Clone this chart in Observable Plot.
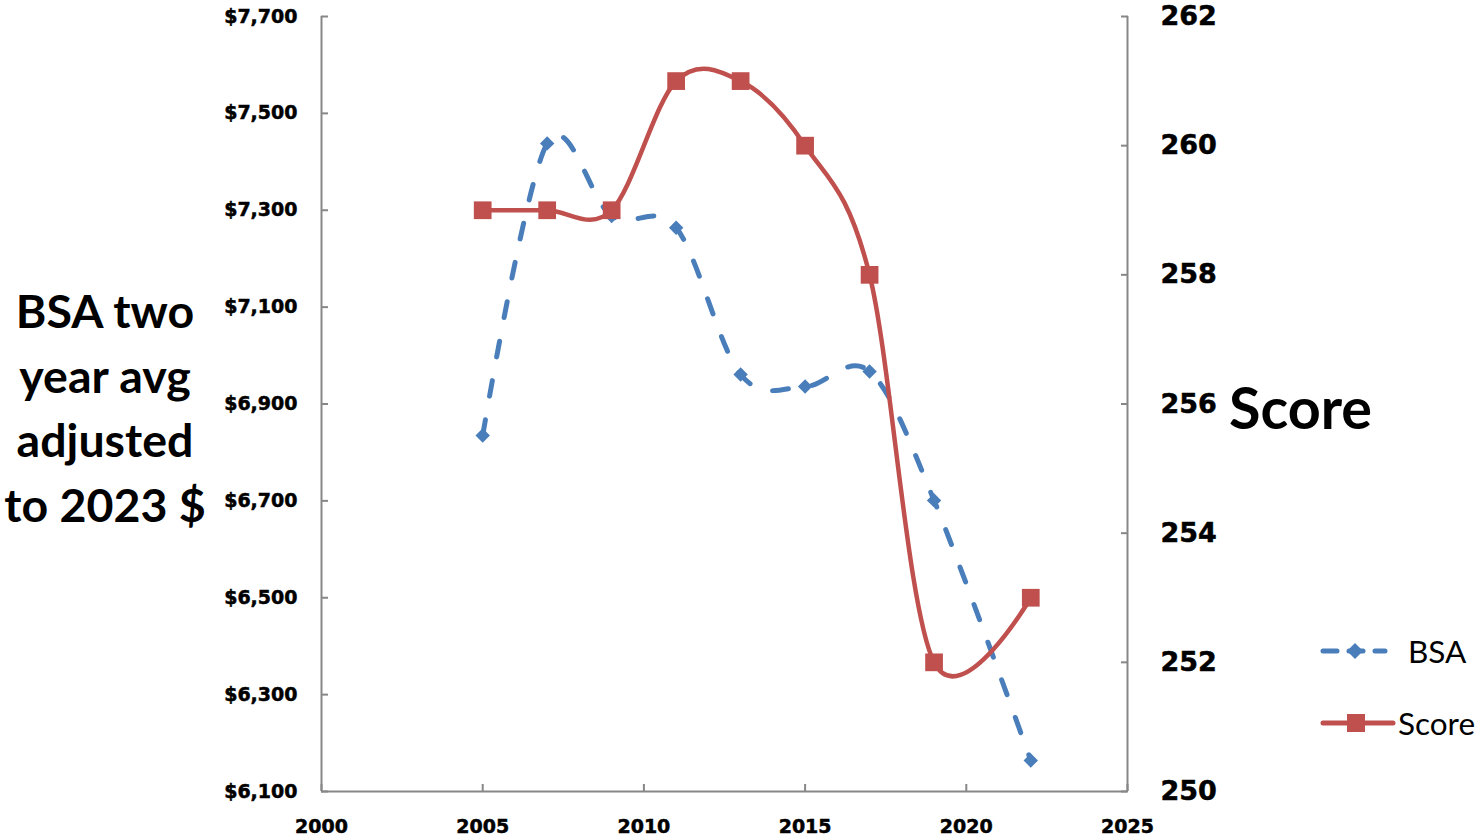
<!DOCTYPE html>
<html>
<head>
<meta charset="utf-8">
<script src="https://cdn.jsdelivr.net/npm/d3@7"></script>
<script src="https://cdn.jsdelivr.net/npm/@observablehq/plot@0.6"></script>
<style>
  html, body { margin: 0; padding: 0; background: #fff; overflow: hidden; }
  #wrap { position: relative; width: 1477px; height: 836px; overflow: hidden; }
  #chart { position: absolute; left: 0; top: 0; }
  #chart g[aria-label$="tick label"] text { stroke: #000; stroke-width: 0.5px; }
  .ytitle { position: absolute; left: 0; width: 210px; text-align: center; font-family: Lato, sans-serif; font-weight: bold; font-size: 46.5px; line-height: 64.5px; top: 278px; color: #000; }
  .rtitle { position: absolute; left: 1229px; top: 372px; font-family: Lato, sans-serif; font-weight: bold; font-size: 57.5px; line-height: 70px; color: #000; }
  .legend { position: absolute; left: 1316px; font-family: Lato, sans-serif; font-size: 31.5px; color: #000; white-space: nowrap; display: flex; align-items: center; }
</style>
</head>
<body>
<div id="wrap">
  <div id="chart"></div>
  <div class="ytitle">BSA two<br>year avg<br>adjusted<br>to 2023 $</div>
  <div class="rtitle">Score</div>
  <div class="legend" style="top:631px;">
    <svg width="80" height="40"><line x1="7" y1="20" x2="69" y2="20" stroke="#4A7EBB" stroke-width="5" stroke-dasharray="14,12" stroke-linecap="round"/><path d="M39,12 L47,20 L39,28 L31,20 Z" fill="#4A7EBB"/></svg>
    <span style="margin-left:12px;">BSA</span>
  </div>
  <div class="legend" style="top:703px;">
    <svg width="82" height="40"><line x1="7" y1="20" x2="77" y2="20" stroke="#C0504D" stroke-width="5" stroke-linecap="round"/><rect x="31" y="11" width="18" height="18" fill="#C0504D"/></svg>
    <span style="margin-left:0px;">Score</span>
  </div>
</div>
<script>
const years = [2005, 2007, 2009, 2011, 2013, 2015, 2017, 2019, 2022];
const bsa = [6835, 7438, 7288, 7264, 6961, 6936, 6967, 6701, 6164];
const score = [259, 259, 259, 261, 261, 260, 258, 252, 253];

const xTicks = [2000, 2005, 2010, 2015, 2020, 2025];
const bsaTicks = [6100, 6300, 6500, 6700, 6900, 7100, 7300, 7500, 7700];
const scoreTicks = [250, 252, 254, 256, 258, 260, 262];

const xDomain = [2000, 2025];
const bsaDomain = [6100, 7700];
const scoreDomain = [250, 262];

// map score onto the BSA (left) scale so both share one y scale
const s2b = d3.scaleLinear().domain(scoreDomain).range(bsaDomain);

const bsaData = years.map((y, i) => ({year: y, value: bsa[i]}));
const scoreData = years.map((y, i) => ({year: y, value: s2b(score[i])}));

const curve = d3.curveCardinal.tension(0);
const blue = "#4A7EBB", red = "#C0504D", axisGray = "#878787";

const chart = Plot.plot({
  width: 1477,
  height: 836,
  marginLeft: 321,
  marginRight: 350,
  marginTop: 16,
  marginBottom: 45,
  x: {domain: xDomain},
  y: {domain: bsaDomain},
  marks: [
    Plot.ruleX([xDomain[0], xDomain[1]], {stroke: axisGray, strokeWidth: 2}),
    Plot.ruleY([bsaDomain[0]], {stroke: axisGray, strokeWidth: 2}),
    Plot.axisX({ticks: xTicks, tickFormat: "d", tickSize: -7, tickPadding: 35, label: null,
      stroke: axisGray, fill: "#000", strokeWidth: 2,
      fontSize: 19, fontWeight: "bold", fontFamily: "DejaVu Sans"}),
    Plot.axisY({anchor: "left", ticks: bsaTicks, tickFormat: d => "$" + d3.format(",")(d),
      tickSize: -7, tickPadding: 31, label: null, stroke: axisGray, fill: "#000", strokeWidth: 2,
      fontSize: 19, fontWeight: "bold", fontFamily: "DejaVu Sans"}),
    Plot.axisY({anchor: "right", ticks: scoreTicks.map(s2b), tickFormat: d => d3.format("d")(Math.round(s2b.invert(d))),
      tickSize: -7, tickPadding: 40, label: null, stroke: axisGray, fill: "#000", strokeWidth: 2,
      fontSize: 27, fontWeight: "bold", fontFamily: "DejaVu Sans"}),
    Plot.line(bsaData, {x: "year", y: "value", stroke: blue, strokeWidth: 5, strokeDasharray: "16,24", strokeLinecap: "round", curve}),
    Plot.dot(bsaData, {x: "year", y: "value", symbol: "diamond2", r: 6.5, fill: blue}),
    Plot.line(scoreData, {x: "year", y: "value", stroke: red, strokeWidth: 4.5, curve}),
    Plot.dot(scoreData, {x: "year", y: "value", symbol: "square", r: 10, fill: red})
  ]
});
document.getElementById("chart").appendChild(chart);
</script>
</body>
</html>
